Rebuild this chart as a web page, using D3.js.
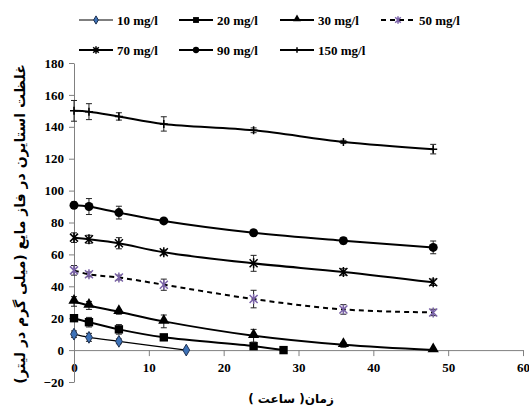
<!DOCTYPE html>
<html>
<head>
<meta charset="utf-8">
<script src="https://cdn.jsdelivr.net/npm/d3@7"></script>
<style>
  body { margin: 0; background: #fff; }
  #chart { width: 529px; height: 413px; }
</style>
</head>
<body>
<div id="chart"></div>
<script>
// Data
let legend_labels = ["10 mg/l", "20 mg/l", "30 mg/l", "50 mg/l", "70 mg/l", "90 mg/l", "150 mg/l"];

let hours_10 = [0, 2, 6, 15];
let conc_10 = [10, 8, 5.5, 0];
let err_10 = [2, 2.5, 1.5, 0];

let hours_20 = [0, 2, 6, 12, 24, 28];
let conc_20 = [20, 17.5, 13, 8, 2.5, 0];
let err_20 = [2, 3, 3, 1.5, 1.5, 0];

let hours_30 = [0, 2, 6, 12, 24, 36, 48];
let conc_30 = [30.5, 28, 24, 18, 9, 3.3, 0];
let err_30 = [3, 2.5, 1.5, 4, 4, 1.5, 0.5];

let hours_50 = [0, 2, 6, 12, 24, 36, 48];
let conc_50 = [50, 47.5, 45.5, 41, 32, 25.5, 23.6];
let err_50 = [3, 1.5, 1.5, 3.5, 5.5, 3, 2];

let hours_70 = [0, 2, 6, 12, 24, 36, 48];
let conc_70 = [70.5, 69.5, 67, 61.3, 54.4, 49, 42.5];
let err_70 = [3, 2.5, 3.5, 1.5, 5, 2, 2];

let hours_90 = [0, 2, 6, 12, 24, 36, 48];
let conc_90 = [90.8, 90, 86.2, 81, 73.6, 68.6, 64.4];
let err_90 = [2, 5, 4, 1.5, 1.5, 2, 4];

let hours_150 = [0, 2, 6, 12, 24, 36, 48];
let conc_150 = [150, 149.5, 146.5, 141.8, 137.8, 130.5, 126];
let err_150 = [6.5, 5, 2.3, 4.5, 1.5, 1, 3];

let x_ticks = [0, 10, 20, 30, 40, 50, 60];
let y_ticks = [-20, 0, 20, 40, 60, 80, 100, 120, 140, 160, 180];

let y_title = "غلظت استایرن در فاز مایع (میلی گرم در لیتر)";
let x_title = "زمان( ساعت )";

let serif_font = '"Liberation Serif", "Times New Roman", "DejaVu Serif", serif';

function BuildGraph(){
  let chart_width = 529;
  let chart_height = 413;

  let svg = d3.select('#chart')
    .append('svg')
    .attr('width', chart_width)
    .attr('height', chart_height);

  let x_scale = d3.scaleLinear().domain([0, 60]).range([74, 523]);
  let y_scale = d3.scaleLinear().domain([-20, 180]).range([382, 63]);

  // series styles
  let series = [
    { hours: hours_10, conc: conc_10, err: err_10, width: 1.2, dash: null, marker: 'diamond' },
    { hours: hours_20, conc: conc_20, err: err_20, width: 2, dash: null, marker: 'square' },
    { hours: hours_30, conc: conc_30, err: err_30, width: 2, dash: null, marker: 'triangle' },
    { hours: hours_50, conc: conc_50, err: err_50, width: 2, dash: '5,4', marker: 'star_purple' },
    { hours: hours_70, conc: conc_70, err: err_70, width: 2, dash: null, marker: 'star' },
    { hours: hours_90, conc: conc_90, err: err_90, width: 2, dash: null, marker: 'circle' },
    { hours: hours_150, conc: conc_150, err: err_150, width: 2, dash: null, marker: 'plus' }
  ];

  // Axes
  let x_axis = d3.axisBottom(x_scale)
    .tickValues(x_ticks)
    .tickSizeInner(6)
    .tickSizeOuter(0)
    .tickPadding(7);
  let gx = svg.append('g')
    .attr('transform', 'translate(0,' + y_scale(0) + ')')
    .call(x_axis)
    .attr('font-family', serif_font)
    .attr('font-size', 13)
    .attr('font-weight', 'bold');
  gx.select('.domain').attr('stroke', '#808080');
  gx.selectAll('.tick line').attr('stroke', '#808080');

  let y_axis = d3.axisLeft(y_scale)
    .tickValues(y_ticks)
    .tickSizeInner(5)
    .tickSizeOuter(0)
    .tickPadding(5);
  let gy = svg.append('g')
    .attr('transform', 'translate(' + x_scale(0) + ',0)')
    .call(y_axis)
    .attr('font-family', serif_font)
    .attr('font-size', 13)
    .attr('font-weight', 'bold');
  gy.select('.domain').attr('stroke', '#808080');
  gy.selectAll('.tick line').attr('stroke', '#808080');

  let line = d3.line()
    .x((d) => x_scale(d[0]))
    .y((d) => y_scale(d[1]))
    .curve(d3.curveCatmullRom.alpha(0.5));

  function drawMarker(g, type, x, y, k){
    k = k || 1;
    if (type == 'diamond'){
      g.append('path')
        .attr('d', d3.symbol().type(d3.symbolDiamond).size(40 * k * k)())
        .attr('transform', 'translate(' + x + ',' + y + ')')
        .attr('fill', '#3d72b8').attr('stroke', '#1e3050').attr('stroke-width', 1);
    } else if (type == 'square'){
      g.append('path')
        .attr('d', d3.symbol().type(d3.symbolSquare).size(70 * k * k)())
        .attr('transform', 'translate(' + x + ',' + y + ')')
        .attr('fill', '#000');
    } else if (type == 'triangle'){
      g.append('path')
        .attr('d', d3.symbol().type(d3.symbolTriangle).size(55 * k * k)())
        .attr('transform', 'translate(' + x + ',' + (y - 1) + ')')
        .attr('fill', '#000');
    } else if (type == 'circle'){
      g.append('circle')
        .attr('cx', x).attr('cy', y).attr('r', 4.5 * k)
        .attr('fill', '#000');
    } else if (type == 'star' || type == 'star_purple'){
      let col = type == 'star' ? '#000' : '#7a62a8';
      let s = 4 * k;
      g.append('path')
        .attr('d', 'M' + (x - s) + ',' + (y - s) + 'L' + (x + s) + ',' + (y + s) +
                   'M' + (x - s) + ',' + (y + s) + 'L' + (x + s) + ',' + (y - s) +
                   'M' + x + ',' + (y - s - 1) + 'L' + x + ',' + (y + s + 1))
        .attr('stroke', col).attr('stroke-width', 1.5).attr('fill', 'none');
    } else if (type == 'plus'){
      g.append('path')
        .attr('d', 'M' + x + ',' + (y - 4 * k) + 'L' + x + ',' + (y + 4 * k) +
                   'M' + (x - 4 * k) + ',' + y + 'L' + (x + 4 * k) + ',' + y)
        .attr('stroke', '#000').attr('stroke-width', 1.5);
    }
  }

  // Lines, error bars, markers
  series.forEach(function(s){
    let pts = s.hours.map((h, i) => [h, s.conc[i], s.err[i]]);
    let g = svg.append('g');

    g.append('path')
      .datum(pts)
      .attr('d', line)
      .attr('fill', 'none')
      .attr('stroke', '#000')
      .attr('stroke-width', s.width)
      .attr('stroke-dasharray', s.dash);

    pts.forEach(function(p){
      if (p[2] > 0){
        let x = x_scale(p[0]);
        let y1 = y_scale(p[1] + p[2]);
        let y2 = y_scale(p[1] - p[2]);
        g.append('path')
          .attr('d', 'M' + x + ',' + y1 + 'L' + x + ',' + y2 +
                     'M' + (x - 3) + ',' + y1 + 'L' + (x + 3) + ',' + y1 +
                     'M' + (x - 3) + ',' + y2 + 'L' + (x + 3) + ',' + y2)
          .attr('stroke', '#222').attr('stroke-width', 1).attr('fill', 'none');
      }
    });

    pts.forEach(function(p){
      drawMarker(g, s.marker, x_scale(p[0]), y_scale(p[1]));
    });
  });

  // Legend
  let legend = svg.append('g').attr('id', 'legend');
  let col_x = [79, 179, 280, 381];
  let row_y = [20, 50];
  series.forEach(function(s, i){
    let lx = col_x[i % 4];
    let ly = row_y[Math.floor(i / 4)];
    legend.append('line')
      .attr('x1', lx).attr('x2', lx + 34)
      .attr('y1', ly).attr('y2', ly)
      .attr('stroke', '#000')
      .attr('stroke-width', s.width)
      .attr('stroke-dasharray', s.dash);
    drawMarker(legend, s.marker, lx + 17, ly, 0.7);
    legend.append('text')
      .attr('x', lx + 38)
      .attr('y', ly)
      .attr('dy', '0.35em')
      .style('font-family', serif_font)
      .style('font-weight', 'bold')
      .style('font-size', '13px')
      .text(legend_labels[i]);
  });

  // Axis titles
  svg.append('text')
    .attr('transform', 'translate(20,' + 224 + ')rotate(-90)')
    .attr('text-anchor', 'middle')
    .attr('dy', '0.35em')
    .style('font-family', '"DejaVu Sans", sans-serif')
    .style('font-weight', 'bold')
    .style('font-size', '14px')
    .text(y_title);

  svg.append('text')
    .attr('x', 291)
    .attr('y', 399)
    .attr('text-anchor', 'middle')
    .attr('dy', '0.35em')
    .style('font-family', '"DejaVu Sans", sans-serif')
    .style('font-weight', 'bold')
    .style('font-size', '12px')
    .text(x_title);
}

document.addEventListener('DOMContentLoaded', function(){
  BuildGraph();
});
</script>
</body>
</html>
